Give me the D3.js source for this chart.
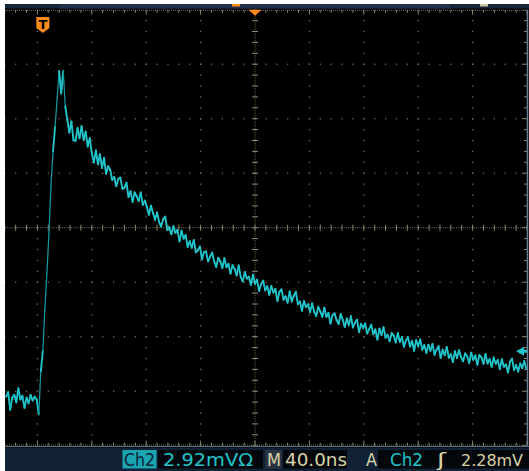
<!DOCTYPE html>
<html>
<head>
<meta charset="utf-8">
<script src="https://cdn.jsdelivr.net/npm/d3@7"></script>
<style>
  html, body { margin: 0; padding: 0; background: #fff; }
  svg { display: block; }
</style>
</head>
<body>
<div id="container"></div>
<script>
/* CONSTANTS AND GLOBALS */
const width = 529;
const height = 471;

// scope settings
const NS_PER_DIV = 40;      // M 40.0ns
const MV_PER_DIV = 2.92;    // Ch2 2.92mV
const TRIG_LEVEL = 2.28;    // A Ch2 2.28mV
const TRIG_DIV = -3.9;      // trigger point, divisions from centre
const GND_DIV = -3.05;      // ch2 ground, divisions from centre

// acquisition: first sample time and sample interval (ns)
const T0 = -27;
const DT = 1.5;

// ch2 samples in mV
const trace = [
  -0.15, 0.10, -0.85, -0.20, -0.05, -0.45, 0.30, -0.30, -0.10, -0.75,
  -0.20, -0.50, -0.05, -0.35, -0.15, -0.30, -1.10, 1.2, 2.3, 4.6,
  6.5, 8.6, 11.2, 13.0, 14.3, 15.8, 17.3, 16.1, 17.3, 15.4,
  14.7, 14.0, 14.6, 13.6, 13.55, 14.25, 13.7, 14.35, 13.6, 14.05,
  13.25, 13.7, 12.9, 12.4, 13.05, 12.3, 12.85, 12.1, 12.65, 11.8,
  12.2, 12.01, 11.47, 11.62, 11.13, 11.52, 11.59, 10.99, 11.05, 11.31,
  10.55, 10.86, 10.29, 10.80, 10.58, 10.33, 10.80, 10.13, 10.36, 10.02,
  9.60, 10.09, 9.69, 9.33, 9.72, 9.21, 8.97, 9.37, 9.50, 8.78,
  8.93, 8.56, 8.99, 8.63, 8.79, 8.17, 8.75, 8.32, 8.51, 7.88,
  8.18, 7.83, 8.25, 7.59, 7.71, 7.90, 7.21, 7.60, 7.63, 7.10,
  7.36, 7.57, 7.10, 6.80, 7.29, 7.11, 6.75, 7.27, 6.79, 6.97,
  6.45, 6.90, 6.70, 6.35, 6.88, 6.27, 6.03, 6.54, 6.18, 6.28,
  5.85, 6.39, 5.90, 6.12, 5.52, 5.88, 6.07, 5.55, 5.77, 5.31,
  5.79, 5.43, 5.62, 4.97, 5.47, 5.60, 5.05, 5.23, 4.89, 5.49,
  4.95, 5.25, 5.47, 4.81, 4.95, 4.46, 4.98, 4.65, 4.80, 4.37,
  4.86, 4.40, 4.17, 4.67, 4.42, 4.13, 4.62, 4.13, 4.34, 3.77,
  4.22, 4.32, 3.95, 3.75, 4.28, 3.98, 3.59, 4.04, 3.68, 4.17,
  3.56, 3.81, 3.98, 3.32, 3.76, 3.52, 3.78, 3.24, 3.47, 3.71,
  3.20, 3.46, 2.91, 3.50, 3.16, 3.57, 3.01, 3.17, 2.82, 3.26,
  3.12, 2.76, 3.26, 2.78, 3.05, 2.53, 2.86, 3.03, 2.54, 2.84,
  2.31, 2.88, 2.57, 2.92, 2.37, 2.62, 2.20, 2.64, 2.31, 2.68,
  2.10, 2.37, 2.56, 1.92, 2.37, 2.07, 2.52, 1.94, 2.13, 1.71,
  2.29, 1.92, 2.34, 1.97, 1.75, 2.17, 2.02, 1.66, 2.21, 1.83,
  2.06, 1.56, 2.09, 1.95, 1.62, 2.14, 1.63, 1.87, 1.46, 1.95,
  1.62, 1.82, 1.33, 1.86, 1.45, 1.58, 1.15, 1.72, 1.89, 1.28,
  1.55, 1.20, 1.63, 1.38, 1.77, 1.34
];

// status bar texts
const scaleText = ["Ch2", "2.92mV\u03A9"];
const timeText = ["M", "40.0ns"];
const trigText = ["A", "Ch2", "\u0283", "2.28mV"];

const screen = { left: -17, right: 527, top: 9.7, bottom: 445.7 };

const gridCol = "#6f6f5c";
const tickCol = "#8c8c72";
const cyan = "#20c4ca";
const beige = "#d8d3a6";

/* SCALES */
const gx = d3.scaleLinear().domain([-5, 5]).range([screen.left, screen.right]);
const gy = d3.scaleLinear().domain([-4, 4]).range([screen.bottom, screen.top]);

const xScale = d3.scaleLinear()
  .domain([(-5 - TRIG_DIV) * NS_PER_DIV, (5 - TRIG_DIV) * NS_PER_DIV])
  .range(gx.range());

const yScale = d3.scaleLinear()
  .domain([(-4 - GND_DIV) * MV_PER_DIV, (4 - GND_DIV) * MV_PER_DIV])
  .range(gy.range());

const data = trace.map((v, i) => ({ t: T0 + i * DT, v }));

/* HTML ELEMENTS */
const svg = d3.select("#container")
  .append("svg")
  .attr("width", width)
  .attr("height", height);

// screen background
svg.append("rect")
  .attr("x", 5).attr("y", 4)
  .attr("width", width - 5).attr("height", height - 4)
  .attr("fill", "#000");

// record strip at top
svg.append("rect")
  .attr("x", 5).attr("y", 4).attr("width", width - 5).attr("height", 4.5)
  .attr("fill", "#18263c");
svg.append("rect")
  .attr("x", 60).attr("y", 4).attr("width", 390).attr("height", 4.5)
  .attr("fill", "#22324e");
svg.append("rect")
  .attr("x", 232).attr("y", 4).attr("width", 8).attr("height", 2.5)
  .attr("fill", "#ff8a1c");
svg.append("rect")
  .attr("x", 480).attr("y", 4).attr("width", 8).attr("height", 2.5)
  .attr("fill", "#cfc8a0");

const plot = svg.append("g");

svg.append("clipPath").attr("id", "scr")
  .append("rect")
  .attr("x", 5).attr("y", screen.top)
  .attr("width", screen.right - 5).attr("height", screen.bottom - screen.top);

plot.attr("clip-path", "url(#scr)");

const fifths = d3.range(-25, 26).map(i => i / 5);
const fifthsY = d3.range(-20, 21).map(i => i / 5);

// dotted graticule
const vLines = [-4, -3, -2, -1, 1, 2, 3, 4];
const hLines = [-3, -2, -1, 1, 2, 3];

plot.selectAll("g.vdots")
  .data(vLines)
  .join("g")
  .attr("class", "vdots")
  .selectAll("rect")
  .data(k => fifthsY.map(m => [k, m]))
  .join("rect")
  .attr("x", d => gx(d[0]) - 0.6)
  .attr("y", d => gy(d[1]) - 0.6)
  .attr("width", 1.3).attr("height", 1.3)
  .attr("fill", gridCol);

plot.selectAll("g.hdots")
  .data(hLines)
  .join("g")
  .attr("class", "hdots")
  .selectAll("rect")
  .data(k => fifths.map(m => [m, k]))
  .join("rect")
  .attr("x", d => gx(d[0]) - 0.6)
  .attr("y", d => gy(d[1]) - 0.6)
  .attr("width", 1.3).attr("height", 1.3)
  .attr("fill", gridCol);

// centre cross
plot.append("line")
  .attr("x1", gx(-5)).attr("x2", gx(5))
  .attr("y1", gy(0)).attr("y2", gy(0))
  .attr("stroke", gridCol).attr("stroke-dasharray", "1,1.2");
plot.append("line")
  .attr("x1", gx(0)).attr("x2", gx(0))
  .attr("y1", gy(-4)).attr("y2", gy(4))
  .attr("stroke", gridCol).attr("stroke-dasharray", "1,1.2");

plot.selectAll("line.cxt")
  .data(fifths)
  .join("line")
  .attr("class", "cxt")
  .attr("x1", d => gx(d)).attr("x2", d => gx(d))
  .attr("y1", gy(0) - 3).attr("y2", gy(0) + 3)
  .attr("stroke", tickCol);

plot.selectAll("line.cyt")
  .data(fifthsY)
  .join("line")
  .attr("class", "cyt")
  .attr("x1", gx(0) - 3).attr("x2", gx(0) + 3)
  .attr("y1", d => gy(d)).attr("y2", d => gy(d))
  .attr("stroke", tickCol);

// border ticks: top, bottom, right
plot.append("line")
  .attr("x1", 5).attr("x2", screen.right)
  .attr("y1", screen.top + 0.5).attr("y2", screen.top + 0.5)
  .attr("stroke", tickCol).attr("stroke-dasharray", "1,1");
plot.selectAll("line.tt")
  .data(fifths)
  .join("line")
  .attr("class", "tt")
  .attr("x1", d => gx(d)).attr("x2", d => gx(d))
  .attr("y1", screen.top).attr("y2", d => screen.top + (Number.isInteger(d) ? 5 : 3))
  .attr("stroke", tickCol);

plot.append("line")
  .attr("x1", 5).attr("x2", screen.right)
  .attr("y1", screen.bottom - 0.5).attr("y2", screen.bottom - 0.5)
  .attr("stroke", tickCol).attr("stroke-dasharray", "1,1");
plot.selectAll("line.bt")
  .data(fifths)
  .join("line")
  .attr("class", "bt")
  .attr("x1", d => gx(d)).attr("x2", d => gx(d))
  .attr("y1", screen.bottom).attr("y2", d => screen.bottom - (Number.isInteger(d) ? 5 : 3))
  .attr("stroke", tickCol);

plot.selectAll("line.rt")
  .data(fifthsY)
  .join("line")
  .attr("class", "rt")
  .attr("x1", screen.right).attr("x2", d => screen.right - (Number.isInteger(d) ? 5 : 3))
  .attr("y1", d => gy(d)).attr("y2", d => gy(d))
  .attr("stroke", tickCol);

svg.append("line")
  .attr("x1", screen.right + 0.5).attr("x2", screen.right + 0.5)
  .attr("y1", screen.top).attr("y2", screen.bottom)
  .attr("stroke", "#6d7f98").attr("stroke-width", 1.5);

svg.append("line")
  .attr("x1", 5).attr("x2", width)
  .attr("y1", screen.bottom + 0.8).attr("y2", screen.bottom + 0.8)
  .attr("stroke", "#5c6a7c").attr("stroke-width", 1.2);

// waveform: fast edges draw dimmer and thinner, like the phosphor does
const segs = d3.pairs(data);
const steep = d => Math.abs(yScale(d[1].v) - yScale(d[0].v)) > 25;
plot.selectAll("line.seg")
  .data(segs)
  .join("line")
  .attr("class", "seg")
  .attr("x1", d => xScale(d[0].t)).attr("y1", d => yScale(d[0].v))
  .attr("x2", d => xScale(d[1].t)).attr("y2", d => yScale(d[1].v))
  .attr("stroke", d => steep(d) ? "#15949c" : cyan)
  .attr("stroke-width", d => steep(d) ? 1.3 : 1.9)
  .attr("stroke-linecap", "round");

// trigger position marker "T"
const tx = xScale(0);
const tMark = svg.append("g").attr("transform", `translate(${tx},17)`);
tMark.append("path")
  .attr("d", "M-6.5,0 H6.5 V11 L0,16 L-6.5,11 Z")
  .attr("fill", "#ff8c1a");
tMark.append("text")
  .attr("x", 0).attr("y", 11.5)
  .attr("text-anchor", "middle")
  .attr("font-family", "DejaVu Sans")
  .attr("font-weight", "bold")
  .attr("font-size", 13)
  .attr("fill", "#000")
  .text("T");

// expansion point at top centre
svg.append("path")
  .attr("d", `M${gx(0) - 6.5},${screen.top} h13 l-6.5,6 Z`)
  .attr("fill", "#ff8a1c");

// trigger level arrow on the right
const ty = yScale(TRIG_LEVEL);
svg.append("path")
  .attr("d", `M${screen.right - 11},${ty} l8,-4.5 v3 h3 v3 h-3 v3 Z`)
  .attr("fill", cyan);

/* STATUS BAR */
const bar = svg.append("g");
bar.append("rect")
  .attr("x", 5).attr("y", 447.5).attr("width", width - 5).attr("height", height - 447.5)
  .attr("fill", "#112236");

const boxes = [
  { x: 122.5, w: 34, fill: "#1aa5b1" },
  { x: 158, w: 105, fill: "#03070c" },
  { x: 265.5, w: 16, fill: "#2b3442" },
  { x: 283, w: 64, fill: "#03070c" },
  { x: 378, w: 151, fill: "#03070c" }
];
bar.selectAll("rect.box")
  .data(boxes)
  .join("rect")
  .attr("class", "box")
  .attr("x", d => d.x).attr("y", 450)
  .attr("width", d => d.w).attr("height", 18.5)
  .attr("fill", d => d.fill);

const labels = [
  { s: scaleText[0], x: 124, w: 31, size: 18, fill: "#0b2336" },
  { s: scaleText[1], x: 163, w: 90, size: 18, fill: cyan },
  { s: timeText[0], x: 267, w: 14, size: 18, fill: beige },
  { s: timeText[1], x: 285, w: 62, size: 18, fill: beige },
  { s: trigText[0], x: 366, w: 11, size: 18, fill: beige },
  { s: trigText[1], x: 390, w: 33, size: 18, fill: cyan },
  { s: trigText[2], x: 437, w: 9, size: 18, fill: beige },
  { s: trigText[3], x: 461, w: 62, size: 16.2, fill: beige }
];
bar.selectAll("text")
  .data(labels)
  .join("text")
  .attr("x", d => d.x).attr("y", 466)
  .attr("font-family", "DejaVu Sans")
  .attr("font-size", d => d.size)
  .attr("textLength", d => d.w)
  .attr("lengthAdjust", "spacingAndGlyphs")
  .attr("fill", d => d.fill)
  .text(d => d.s);
</script>
</body>
</html>
